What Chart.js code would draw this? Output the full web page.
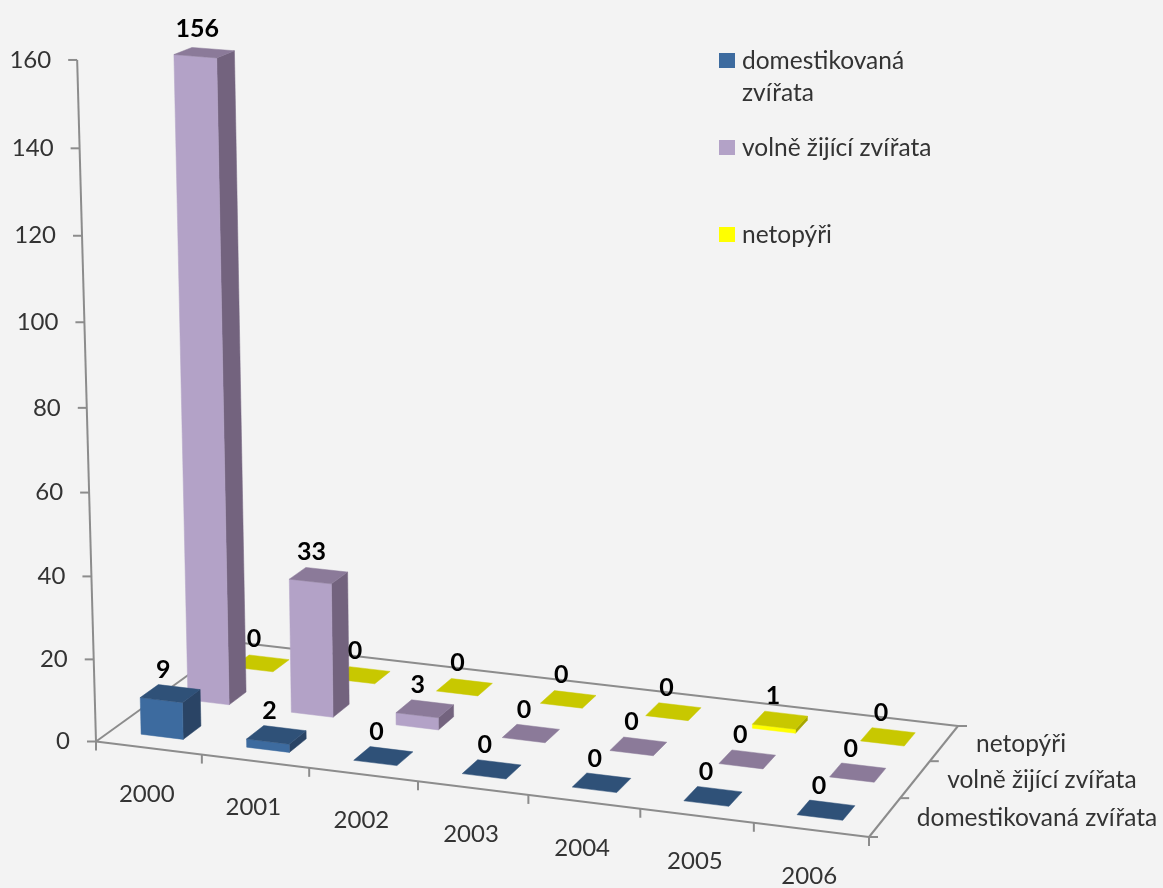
<!DOCTYPE html>
<html lang="cs">
<head>
  <meta charset="UTF-8">
  <title>Zvířata 2000-2006</title>
  <script src="https://cdn.jsdelivr.net/npm/chart.js"></script>
  <style>
    html, body { margin: 0; padding: 0; background: #f3f3f3; }
    .chart-container { position: relative; width: 1163px; height: 888px; }
  </style>
</head>
<body>
  <div class="chart-container"><canvas id="chart"></canvas></div>

  <script>
    // Data
    const years = ['2000', '2001', '2002', '2003', '2004', '2005', '2006'];
    const seriesNames = ['domestikovaná zvířata', 'volně žijící zvířata', 'netopýři'];
    const domestikovana = [9, 2, 0, 0, 0, 0, 0];
    const volneZijici = [156, 33, 3, 0, 0, 0, 0];
    const netopyri = [0, 0, 0, 0, 0, 1, 0];
    const legendLines = [['domestikovaná', 'zvířata'], ['volně žijící zvířata'], ['netopýři']];

    // Face colours per series
    const faces = [
      { front: '#3d6b9f', top: '#2f5178', side: '#2a4465' },
      { front: '#b3a2c7', top: '#8b7a99', side: '#73637e' },
      { front: '#ffff00', top: '#c8c800', side: '#a6a600' }
    ];

    const AXIS = '#8c8c8c';
    const TEXT = '#333333';
    const FONT = 'Lato';

    // Floor corners on the page and the height column of the perspective
    const floor = [[96, 741.5], [869, 837], [958, 726], [234, 642]];
    const heightColumn = { x: -22, y: -684, w: -0.041 };
    const barShare = 0.4;    // bar width as part of a category
    const barDepth = 0.38;   // bar depth as part of a series row

    function makeProjection() {
      const [[x0, y0], [x1, y1], [x2, y2], [x3, y3]] = floor;
      const sx = x0 - x1 + x2 - x3, sy = y0 - y1 + y2 - y3;
      const dx1 = x1 - x2, dx2 = x3 - x2, dy1 = y1 - y2, dy2 = y3 - y2;
      const den = dx1 * dy2 - dx2 * dy1;
      const g = (sx * dy2 - dx2 * sy) / den;
      const h = (dx1 * sy - sx * dy1) / den;
      const a = x1 - x0 + g * x1, b = x3 - x0 + h * x3;
      const d = y1 - y0 + g * y1, e = y3 - y0 + h * y3;
      return (u, v, t) => {
        const w = g * u + h * v + heightColumn.w * t + 1;
        return [
          (a * u + b * v + heightColumn.x * t + x0) / w,
          (d * u + e * v + heightColumn.y * t + y0) / w
        ];
      };
    }
    const project = makeProjection();

    function quad(ctx, pts, color) {
      ctx.fillStyle = color;
      ctx.strokeStyle = color;
      ctx.lineWidth = 0.5;
      ctx.beginPath();
      pts.forEach((p, i) => (i ? ctx.lineTo(p[0], p[1]) : ctx.moveTo(p[0], p[1])));
      ctx.closePath();
      ctx.fill();
      ctx.stroke();
    }

    function segment(ctx, a, b) {
      ctx.beginPath();
      ctx.moveTo(a[0], a[1]);
      ctx.lineTo(b[0], b[1]);
      ctx.stroke();
    }

    function label(ctx, text, x, y, align, font, color) {
      ctx.font = font;
      ctx.fillStyle = color;
      ctx.textAlign = align;
      ctx.textBaseline = 'middle';
      ctx.fillText(text, x, y);
    }

    function drawAxes(chart) {
      const ctx = chart.ctx;
      const { x: xs, y: ys, z: zs } = chart.scales;
      ctx.strokeStyle = AXIS;
      ctx.lineWidth = 2;

      // floor outline and the value axis
      segment(ctx, project(0, 0, 0), project(1, 0, 0));
      segment(ctx, project(1, 0, 0), project(1, 1, 0));
      segment(ctx, project(1, 1, 0), project(0, 1, 0));
      segment(ctx, project(0, 1, 0), project(0, 0, 0));
      segment(ctx, project(0, 0, 0), project(0, 0, 1));

      ys.ticks.forEach(tick => {
        const p = project(0, 0, ys.getDecimalForPixel(ys.getPixelForValue(tick.value)));
        segment(ctx, p, [p[0] - 9, p[1]]);
        label(ctx, String(tick.value), p[0] - 26, p[1], 'right', `24px ${FONT}`, TEXT);
      });

      for (let i = 0; i <= xs.ticks.length; i++) {
        const p = project(i / xs.ticks.length, 0, 0);
        segment(ctx, p, [p[0], p[1] + 9]);
      }
      years.forEach((year, i) => {
        const p = project(xs.getDecimalForPixel(xs.getPixelForValue(i)), 0, 0);
        label(ctx, year, p[0] - 2, p[1] + 46, 'center', `24px ${FONT}`, TEXT);
      });

      for (let k = 0; k <= zs.ticks.length; k++) {
        const p = project(1, k / zs.ticks.length, 0);
        segment(ctx, p, [p[0] + 9, p[1]]);
      }
      seriesNames.forEach((name, k) => {
        const p = project(1, zs.getDecimalForPixel(zs.getPixelForValue(k)), 0);
        label(ctx, name, p[0] + 32, p[1] + 1, 'left', `24.5px ${FONT}`, TEXT);
      });
    }

    function drawBars(chart) {
      const ctx = chart.ctx;
      const { x: xs, y: ys, z: zs } = chart.scales;
      const du = barShare / (2 * xs.ticks.length);
      const dv = barDepth / (2 * zs.ticks.length);
      const marks = [];

      // back row first so nearer bars cover it
      for (let k = chart.data.datasets.length - 1; k >= 0; k--) {
        const v = zs.getDecimalForPixel(zs.getPixelForValue(k));
        chart.data.datasets[k].data.forEach((value, i) => {
          const u = xs.getDecimalForPixel(xs.getPixelForValue(i)) - 0.002;
          const t = ys.getDecimalForPixel(ys.getPixelForValue(value));
          const c = faces[k];
          const fl0 = project(u - du, v - dv, 0), fr0 = project(u + du, v - dv, 0), br0 = project(u + du, v + dv, 0);
          const fl = project(u - du, v - dv, t), fr = project(u + du, v - dv, t);
          const br = project(u + du, v + dv, t), bl = project(u - du, v + dv, t);
          if (value > 0) {
            quad(ctx, [fr0, br0, br, fr], c.side);
            quad(ctx, [fl0, fr0, fr, fl], c.front);
          }
          quad(ctx, [fl, fr, br, bl], c.top);
          marks.push({ value, at: project(u, v, t) });
        });
      }
      marks.forEach(m => {
        label(ctx, String(m.value), m.at[0] - 7, m.at[1] - 24, 'center', `bold 25px ${FONT}`, '#000000');
      });
    }

    function drawLegend(chart) {
      const ctx = chart.ctx;
      const rowTops = [53, 140, 227];
      legendLines.forEach((lines, k) => {
        ctx.fillStyle = faces[k].front;
        ctx.fillRect(719, rowTops[k], 16, 15);
        lines.forEach((line, n) => {
          label(ctx, line, 742, rowTops[k] + 8 + n * 32, 'left', `24.5px ${FONT}`, TEXT);
        });
      });
    }

    const perspectivePlugin = {
      id: 'perspective',
      afterDatasetsDraw(chart) {
        drawAxes(chart);
        drawBars(chart);
        drawLegend(chart);
      }
    };

    new Chart(document.getElementById('chart').getContext('2d'), {
      type: 'bar',
      data: {
        labels: years,
        datasets: [
          { label: seriesNames[0], data: domestikovana, backgroundColor: 'transparent' },
          { label: seriesNames[1], data: volneZijici, backgroundColor: 'transparent' },
          { label: seriesNames[2], data: netopyri, backgroundColor: 'transparent' }
        ]
      },
      options: {
        responsive: true,
        maintainAspectRatio: false,
        animation: false,
        plugins: { legend: { display: false }, tooltip: { enabled: false } },
        scales: {
          x: { display: false },
          y: { display: false, min: 0, max: 160, ticks: { stepSize: 20 } },
          z: { type: 'category', axis: 'x', labels: seriesNames, display: false }
        }
      },
      plugins: [perspectivePlugin]
    });
  </script>
</body>
</html>
